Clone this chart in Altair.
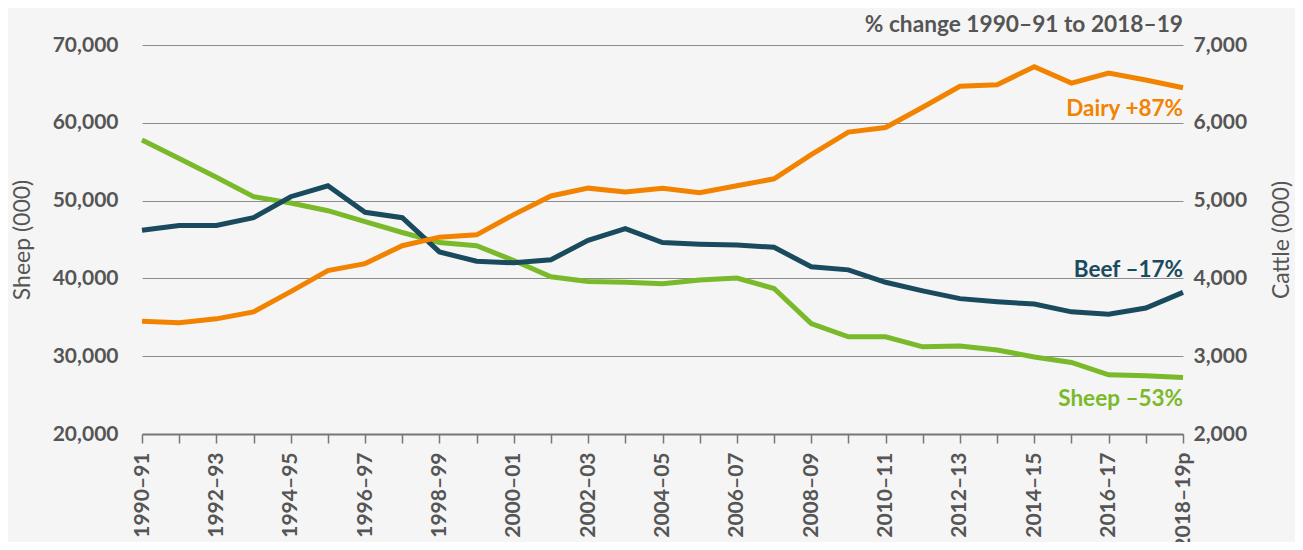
import altair as alt
import pandas as pd

years = ["1990–91", "1991–92", "1992–93", "1993–94", "1994–95", "1995–96", "1996–97",
         "1997–98", "1998–99", "1999–00", "2000–01", "2001–02", "2002–03", "2003–04",
         "2004–05", "2005–06", "2006–07", "2007–08", "2008–09", "2009–10", "2010–11",
         "2011–12", "2012–13", "2013–14", "2014–15", "2015–16", "2016–17", "2017–18",
         "2018–19p"]

sheep = [57800, 55400, 53000, 50500, 49700, 48700, 47300, 45900, 44600, 44200,
         42300, 40200, 39600, 39500, 39300, 39800, 40050, 38700, 34200, 32500,
         32500, 31200, 31300, 30800, 29900, 29200, 27600, 27500, 27250]

beef = [4620, 4680, 4680, 4780, 5050, 5190, 4850, 4780, 4340, 4220,
        4200, 4240, 4490, 4640, 4460, 4440, 4430, 4400, 4150, 4110,
        3950, 3840, 3740, 3700, 3670, 3570, 3540, 3620, 3820]

dairy = [3450, 3430, 3480, 3570, 3830, 4100, 4190, 4420, 4530, 4560,
         4820, 5060, 5160, 5110, 5160, 5100, 5190, 5280, 5590, 5880,
         5940, 6200, 6470, 6490, 6720, 6510, 6640, 6550, 6450]

label_text = {"Sheep": "Sheep –53%", "Beef": "Beef –17%", "Dairy": "Dairy +87%"}
header_text = "% change 1990–91 to 2018–19"
colors = {"Sheep": "#7ab929", "Beef": "#1a4a5d", "Dairy": "#f28300"}

FONT = "Lato"
GREY = "#555555"

df = pd.DataFrame({"year": years, "Sheep": sheep, "Beef": beef, "Dairy": dairy})
last = df[df["year"] == years[-1]].copy()
for k in label_text:
    last[k + "_label"] = label_text[k]
header = pd.DataFrame({"t": [header_text]})

x_enc = alt.X("year:N", sort=years,
              scale=alt.Scale(type="point", padding=0),
              axis=alt.Axis(title=None, labelAngle=270, labelOverlap=False,
                            labelExpr="toNumber(substring(datum.value,0,4)) % 2 == 0 ? datum.value : ''",
                            labelFont=FONT, labelFontSize=21, labelFontWeight="bold",
                            labelColor=GREY, labelPadding=9,
                            tickColor="#777777", tickSize=9, tickWidth=1.5,
                            domainColor="#777777", domainWidth=2))

left_axis = alt.Axis(orient="left", values=[20000, 30000, 40000, 50000, 60000, 70000],
                     format=",.0f", grid=True, gridColor="#8c8c8c", gridWidth=1,
                     domain=False, ticks=False, labelPadding=24,
                     labelFont=FONT, labelFontSize=21, labelFontWeight="bold", labelColor=GREY,
                     title="Sheep (000)", titleFont=FONT, titleFontSize=23,
                     titleFontWeight="normal", titleColor=GREY, titleAngle=270,
                     titleAlign="center", titleBaseline="middle", titleX=-120, titleY=194.5)

right_axis = alt.Axis(orient="right", values=[2000, 3000, 4000, 5000, 6000, 7000],
                      format=",.0f", grid=False, domain=False, ticks=False, labelPadding=10,
                      labelFont=FONT, labelFontSize=21, labelFontWeight="bold", labelColor=GREY,
                      title="Cattle (000)", titleFont=FONT, titleFontSize=23,
                      titleFontWeight="normal", titleColor=GREY, titleAngle=270,
                      titleAlign="center", titleBaseline="middle", titleX=98, titleY=194.5)

sheep_scale = alt.Scale(domain=[20000, 70000], nice=False, zero=False)
cattle_scale = alt.Scale(domain=[2000, 7000], nice=False, zero=False)

base = alt.Chart(df)
lbase = alt.Chart(last)

sheep_line = base.mark_line(color=colors["Sheep"], strokeWidth=5).encode(
    x=x_enc, y=alt.Y("Sheep:Q", scale=sheep_scale, axis=left_axis))
sheep_lbl = lbase.mark_text(align="right", baseline="middle", dy=21, font=FONT,
                            fontSize=22.5, fontWeight="bold", color=colors["Sheep"]).encode(
    x=x_enc, y=alt.Y("Sheep:Q", scale=sheep_scale, axis=left_axis), text="Sheep_label:N")
left = alt.layer(sheep_line, sheep_lbl)

beef_line = base.mark_line(color=colors["Beef"], strokeWidth=5).encode(
    x=x_enc, y=alt.Y("Beef:Q", scale=cattle_scale, axis=right_axis))
dairy_line = base.mark_line(color=colors["Dairy"], strokeWidth=5).encode(
    x=x_enc, y=alt.Y("Dairy:Q", scale=cattle_scale, axis=right_axis))
beef_lbl = lbase.mark_text(align="right", baseline="middle", dy=-22, font=FONT,
                           fontSize=22.5, fontWeight="bold", color=colors["Beef"]).encode(
    x=x_enc, y=alt.Y("Beef:Q", scale=cattle_scale, axis=right_axis), text="Beef_label:N")
dairy_lbl = lbase.mark_text(align="right", baseline="middle", dy=21, font=FONT,
                            fontSize=22.5, fontWeight="bold", color=colors["Dairy"]).encode(
    x=x_enc, y=alt.Y("Dairy:Q", scale=cattle_scale, axis=right_axis), text="Dairy_label:N")
head = alt.Chart(header).mark_text(align="right", baseline="middle", font=FONT,
                                   fontSize=22.7, fontWeight="bold", color=GREY).encode(
    x=alt.value(1041), y=alt.value(-20), text="t:N")
right = alt.layer(beef_line, dairy_line, beef_lbl, dairy_lbl, head)

chart = alt.layer(left, right).resolve_scale(y="independent").properties(
    width=1041, height=389,
    autosize=alt.AutoSizeParams(type="none"),
    padding={"left": 134, "top": 37, "right": 112, "bottom": 108},
    background="#f5f5f5",
).configure_view(stroke=None)

chart.save("out.html", embed_options={"renderer": "svg", "actions": False})
